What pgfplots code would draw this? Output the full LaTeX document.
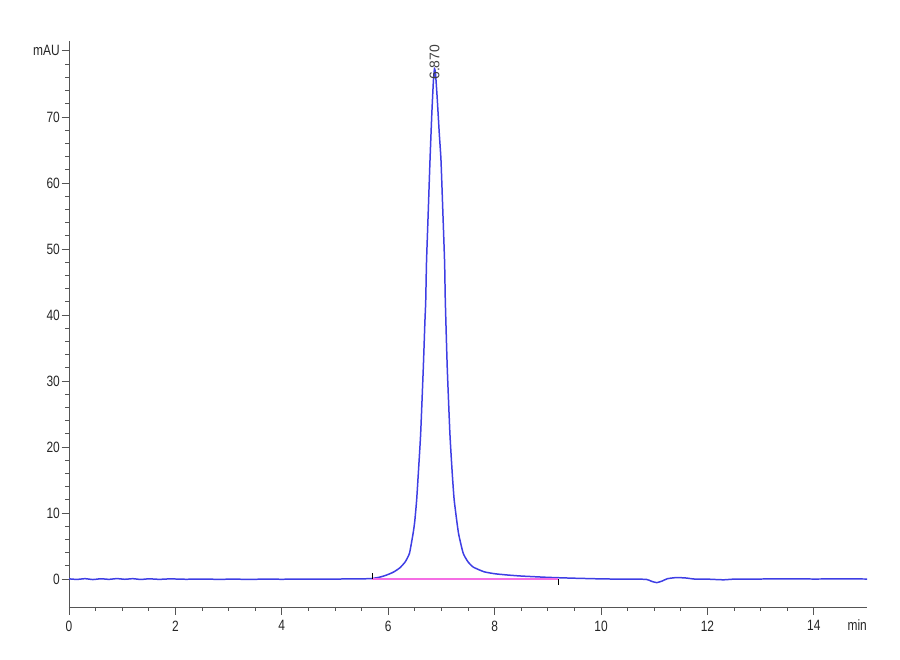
\documentclass[border=0pt]{standalone}
\usepackage{fontspec}
\setmainfont{Liberation Sans}[FakeStretch=0.8]
\newfontfamily\lblfont{Liberation Sans}
\usepackage{pgfplots}
\pgfplotsset{compat=1.18}
\definecolor{trace}{RGB}{62,62,228}
\definecolor{basecol}{RGB}{245,110,228}
\definecolor{axgray}{RGB}{85,85,85}

% chromatogram trace (min, mAU)
\pgfplotstableread{
t v
0.00 0.02
0.15 -0.06
0.30 0.05
0.45 -0.08
0.60 0.04
0.75 -0.05
0.90 0.06
1.05 -0.04
1.20 0.05
1.35 -0.07
1.50 0.03
1.70 -0.05
1.90 0.02
2.20 -0.04
2.50 0.00
2.80 -0.05
3.10 -0.02
3.40 -0.06
3.70 -0.01
4.00 -0.04
4.40 0.00
4.80 -0.03
5.20 0.01
5.50 0.02
5.70 0.08
5.85 0.30
5.97 0.60
6.10 1.05
6.22 1.70
6.32 2.60
6.40 3.90
6.47 7.00
6.50 8.80
6.535 12.0
6.57 16.5
6.61 22.0
6.66 32.0
6.69 39.0
6.705 42.0
6.72 48.0
6.75 55.0
6.786 63.5
6.82 70.5
6.85 75.5
6.87 77.3
6.89 76.5
6.92 73.0
6.96 67.5
6.992 63.5
7.03 55.0
7.06 48.0
7.074 42.0
7.11 32.0
7.16 22.0
7.20 16.5
7.24 12.0
7.32 7.00
7.41 3.90
7.50 2.60
7.60 1.80
7.80 1.10
8.00 0.80
8.25 0.60
8.50 0.45
9.00 0.25
9.50 0.12
10.00 0.02
10.50 -0.03
10.85 -0.05
10.95 -0.35
11.05 -0.55
11.15 -0.30
11.25 0.05
11.42 0.22
11.60 0.15
11.75 0.00
12.00 -0.02
12.30 -0.12
12.50 -0.02
13.00 0.00
13.50 0.02
14.00 0.00
14.50 0.01
15.00 0.00
}\tracedata

\begin{document}
\begin{tikzpicture}
\useasboundingbox (-69bp,-53bp) rectangle (831bp,607bp);
\begin{axis}[
  at={(0,0)}, anchor=south west,
  scale only axis, width=798bp, height=566bp,
  xmin=0, xmax=15, ymin=-4.24, ymax=81.5,
  axis lines=left,
  axis line style={-, axgray, line width=0.9pt},
  xtick={0,2,...,14}, minor x tick num=3,
  ytick={0,10,...,80}, yticklabels={0,10,20,30,40,50,60,70,mAU},
  minor y tick num=4,
  tick align=outside, major tick length=7.5bp, minor tick length=3.5bp,
  every tick/.style={axgray, line width=0.8pt},
  ticklabel style={font=\fontsize{15}{17}\selectfont, text=black!85},
  yticklabel style={inner sep=1.5bp},
  xticklabel style={inner sep=2bp, yshift=-4bp},
  /pgf/number format/assume math mode=true,
]
\addplot[trace, line width=1.5pt, smooth, tension=0.3] table[x=t, y=v] {\tracedata};
\addplot[basecol, line width=2pt] coordinates {(5.70,0.05) (9.20,0.05)};
\addplot[black, line width=0.7pt] coordinates {(5.70,0.0) (5.70,0.9)};
\addplot[black, line width=0.7pt] coordinates {(9.20,0.0) (9.20,-0.9)};
\node[rotate=90, anchor=west, inner sep=0pt, text=black!75,
      font=\lblfont\fontsize{14}{16}\selectfont] at (axis cs:6.87,75.6) {6.870};
\end{axis}
\node[anchor=north east, inner sep=0pt, text=black!85,
      font=\fontsize{15}{17}\selectfont] at (798bp,-12bp) {min};
\end{tikzpicture}
\end{document}
